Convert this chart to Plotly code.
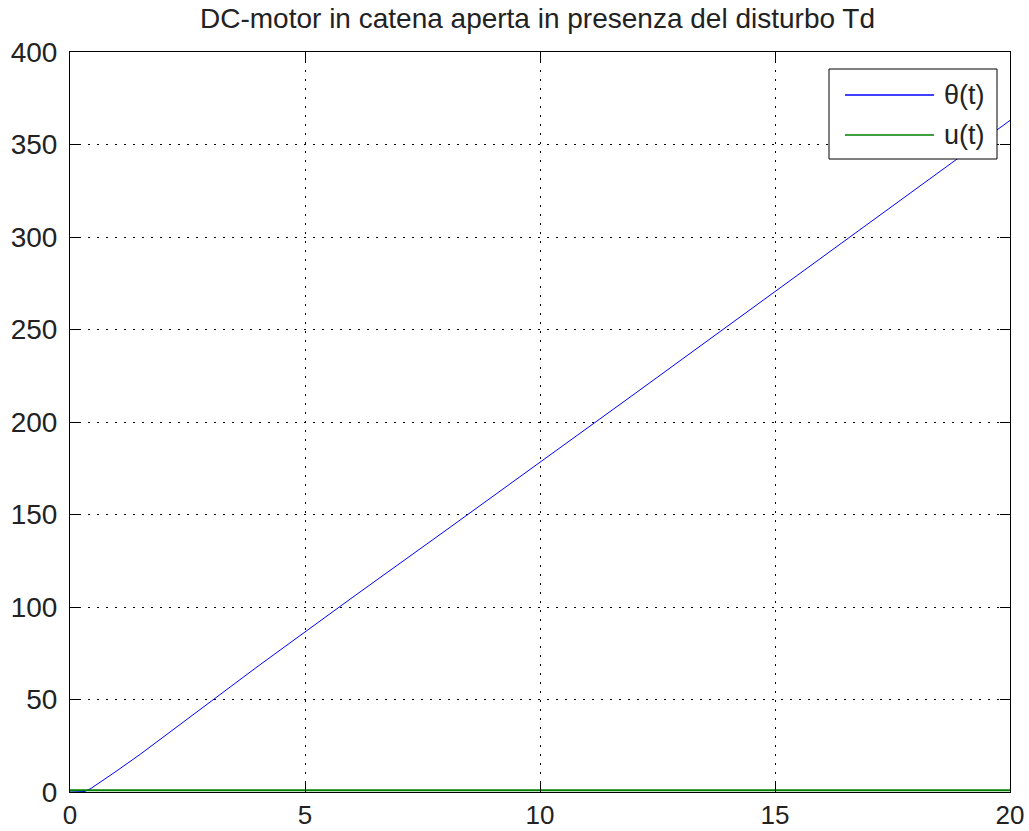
import plotly.graph_objects as go

t_theta = [0, 0.25, 0.32, 0.45, 0.6, 0.8, 1, 1.5, 2, 3, 4, 5, 6, 8, 10, 12, 14, 16, 18, 20]
theta = [0, 0, 0.3, 2, 4.5, 8, 11.5, 20.5, 30, 49, 68, 86.5, 105, 141.5, 178, 215, 252, 289, 326, 363]
t_u = [0, 20]
u = [1, 1]

title = "DC-motor in catena aperta in presenza del disturbo Td"
labels = ["θ(t)", "u(t)"]
colors = ["#0000ff", "#008000"]

W, H = 1029, 831
L, R, T, B = 70, 19, 52, 39
font = "Liberation Sans, Arial, sans-serif"

fig = go.Figure()
fig.add_trace(go.Scatter(x=t_theta, y=theta, mode="lines", name=labels[0],
                         line=dict(color=colors[0], width=1)))
fig.add_trace(go.Scatter(x=t_u, y=u, mode="lines", name=labels[1],
                         line=dict(color=colors[1], width=2)))

axis_common = dict(showline=True, linecolor="black", linewidth=1, mirror="ticks",
                   ticks="inside", ticklen=10, tickwidth=1, tickcolor="black",
                   showgrid=True, gridcolor="black", gridwidth=1, griddash="2px,7px",
                   zeroline=False, automargin=False)

fig.update_xaxes(range=[0, 20], dtick=5, tick0=0, ticklabelstandoff=0,
                 tickfont=dict(family=font, size=26, color="#222"), **axis_common)
fig.update_yaxes(range=[0, 400], dtick=50, tick0=0, ticklabelstandoff=6,
                 tickfont=dict(family=font, size=28, color="#222"), **axis_common)

# legend box (paper coordinates)
pw = W - L - R
ph = H - T - B
def px(x):
    return (x - L) / pw
def py(y):
    return 1 - (y - T) / ph

shapes = [dict(type="rect", xref="paper", yref="paper",
               x0=px(829), x1=px(997), y0=py(159), y1=py(69),
               line=dict(color="black", width=1), fillcolor="white", layer="above")]
annotations = []
for i, (lab, col) in enumerate(zip(labels, colors)):
    yy = 95 + i * 40
    shapes.append(dict(type="line", xref="paper", yref="paper",
                       x0=px(845), x1=px(934), y0=py(yy), y1=py(yy),
                       line=dict(color=col, width=1.5), layer="above"))
    annotations.append(dict(xref="paper", yref="paper", x=px(942), y=py(yy),
                            text=lab, showarrow=False, xanchor="left", yanchor="middle",
                            font=dict(family=font, size=27, color="#222")))

fig.update_layout(
    width=W, height=H,
    margin=dict(l=L, r=R, t=T, b=B),
    paper_bgcolor="white", plot_bgcolor="white",
    showlegend=False,
    title=dict(text=title, x=(190 + 885) / 2 / W, xanchor="center", y=1 - 18 / H, yanchor="middle",
               font=dict(family=font, size=28, color="#222")),
    shapes=shapes, annotations=annotations,
)

fig.write_html("out.html")
